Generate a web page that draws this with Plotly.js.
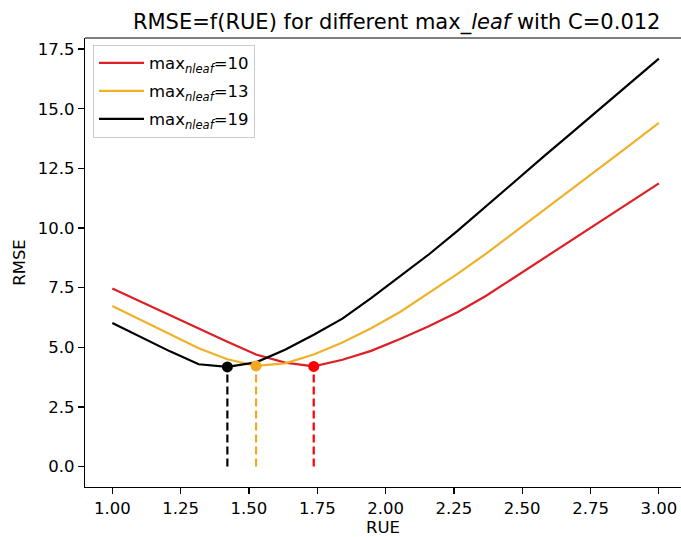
<!DOCTYPE html>
<html>
<head>
<meta charset="utf-8">
<script src="https://cdn.plot.ly/plotly-3.0.1.min.js"></script>
<style>html,body{margin:0;padding:0;background:#fff;}#chart{width:681px;height:537px;}</style>
</head>
<body>
<div id="chart"></div>
<script>
// RUE grid (20 samples between 1 and 3)
const rue = [1.000, 1.105, 1.211, 1.316, 1.421, 1.526, 1.632, 1.737, 1.842, 1.947,
             2.053, 2.158, 2.263, 2.368, 2.474, 2.579, 2.684, 2.789, 2.895, 3.000];
// RMSE series
const rmse10 = [7.47, 6.91, 6.36, 5.80, 5.23, 4.70, 4.36, 4.20, 4.48, 4.85,
                5.35, 5.88, 6.47, 7.16, 7.95, 8.72, 9.50, 10.28, 11.07, 11.87];
const rmse13 = [6.73, 6.14, 5.56, 4.96, 4.50, 4.22, 4.33, 4.70, 5.20, 5.80,
                6.48, 7.27, 8.08, 8.93, 9.84, 10.75, 11.66, 12.58, 13.49, 14.41];
const rmse19 = [6.02, 5.43, 4.83, 4.29, 4.18, 4.37, 4.90, 5.53, 6.20, 7.06,
                7.96, 8.89, 9.88, 10.93, 11.97, 13.00, 14.02, 15.04, 16.07, 17.10];
const names = ["max<sub><i>nleaf</i></sub>=10", "max<sub><i>nleaf</i></sub>=13", "max<sub><i>nleaf</i></sub>=19"];
const xTicks = [1.00, 1.25, 1.50, 1.75, 2.00, 2.25, 2.50, 2.75, 3.00];
const xTickText = ["1.00", "1.25", "1.50", "1.75", "2.00", "2.25", "2.50", "2.75", "3.00"];
const yTicks = [0, 2.5, 5, 7.5, 10, 12.5, 15, 17.5];
const yTickText = ["0.0", "2.5", "5.0", "7.5", "10.0", "12.5", "15.0", "17.5"];

const series = [rmse10, rmse13, rmse19];
const lineColors = ["#dd1f26", "#efb12a", "#000000"];
const dotColors = ["#ff0000", "#f5a623", "#000000"];

const traces = [];
series.forEach((s, i) => {
  traces.push({
    x: rue, y: s, type: "scatter", mode: "lines", name: names[i],
    legendgroup: "g" + i,
    line: {color: lineColors[i], width: 2.2}
  });
});
series.forEach((s, i) => {
  let k = 0;
  for (let j = 1; j < s.length; j++) if (s[j] < s[k]) k = j;
  traces.push({
    x: [rue[k], rue[k]], y: [0, s[k]], type: "scatter", mode: "lines",
    showlegend: false, hoverinfo: "skip",
    line: {color: dotColors[i], width: 2.2, dash: "8px,4px"}
  });
  traces.push({
    x: [rue[k]], y: [s[k]], type: "scatter", mode: "markers",
    showlegend: false,
    marker: {color: dotColors[i], size: 11}
  });
});

const font = "DejaVu Sans, sans-serif";
const fs = 16.5;
const layout = {
  width: 681, height: 537,
  margin: {l: 85, r: 0, t: 38, b: 50},
  paper_bgcolor: "#fff", plot_bgcolor: "#fff",
  font: {family: font, size: fs, color: "#000"},
  title: {
    text: "RMSE=f(RUE) for different max_<i>leaf</i> with C=0.012",
    font: {family: font, size: 21, color: "#000"},
    x: 0.523, xref: "paper", xanchor: "center",
    y: 1, yref: "paper", yanchor: "bottom", pad: {b: 9}
  },
  xaxis: {
    range: [0.9, 3.081], tickvals: xTicks, ticktext: xTickText,
    ticks: "outside", ticklen: 6, tickwidth: 1.2, tickcolor: "#000",
    showline: true, linecolor: "#000", linewidth: 1.2, showgrid: false, zeroline: false,
    tickfont: {family: font, size: fs, color: "#000"},
    title: {text: "RUE", font: {family: font, size: fs, color: "#000"}, standoff: 2}
  },
  yaxis: {
    range: [-0.855, 17.965], tickvals: yTicks, ticktext: yTickText,
    ticks: "outside", ticklen: 6, tickwidth: 1.2, tickcolor: "#000",
    showline: true, linecolor: "#000", linewidth: 1.2, showgrid: false, zeroline: false,
    tickfont: {family: font, size: fs, color: "#000"},
    title: {text: "RMSE", font: {family: font, size: fs, color: "#000"}, standoff: 8}
  },
  shapes: [{type: "line", xref: "paper", yref: "paper", x0: 0, x1: 1, y0: 1, y1: 1,
            line: {color: "#000", width: 1.2}}],
  legend: {
    x: 0.0134, y: 0.985, xanchor: "left", yanchor: "top",
    bgcolor: "rgba(255,255,255,0.8)", bordercolor: "#cccccc", borderwidth: 1,
    font: {family: font, size: fs, color: "#000"},
    traceorder: "grouped", tracegroupgap: 3.5, itemwidth: 45
  },
  showlegend: true
};
Plotly.newPlot("chart", traces, layout, {displayModeBar: false, staticPlot: true});
</script>
</body>
</html>
